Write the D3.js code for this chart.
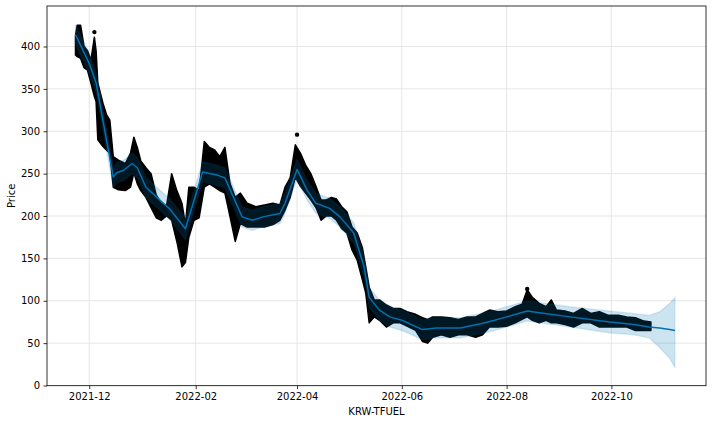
<!DOCTYPE html>
<html>
<head>
<meta charset="utf-8">
<script src="https://cdn.jsdelivr.net/npm/d3@7"></script>
<style>
  html, body { margin: 0; padding: 0; background: #fff; }
  svg { display: block; }
  text { font-family: "DejaVu Sans", sans-serif; }
</style>
</head>
<body>
<div id="chart"></div>
<script>
// ---------------- DATA ----------------
// Observed data (dense hourly points) summarised as a high/low envelope
const obsDates = ["2021-11-23","2021-11-24","2021-11-26","2021-11-28","2021-11-30","2021-12-02","2021-12-04","2021-12-05","2021-12-06","2021-12-09","2021-12-11","2021-12-13","2021-12-15","2021-12-18","2021-12-22","2021-12-25","2021-12-27","2021-12-29","2021-12-31","2022-01-03","2022-01-06","2022-01-09","2022-01-12","2022-01-15","2022-01-18","2022-01-21","2022-01-24","2022-01-26","2022-01-28","2022-01-31","2022-02-03","2022-02-06","2022-02-09","2022-02-12","2022-02-15","2022-02-18","2022-02-21","2022-02-24","2022-02-27","2022-03-03","2022-03-08","2022-03-13","2022-03-18","2022-03-22","2022-03-25","2022-03-28","2022-03-31","2022-04-03","2022-04-06","2022-04-09","2022-04-12","2022-04-15","2022-04-18","2022-04-21","2022-04-24","2022-04-27","2022-04-30","2022-05-03","2022-05-06","2022-05-09","2022-05-11","2022-05-13","2022-05-16","2022-05-19","2022-05-23","2022-05-27","2022-05-31","2022-06-04","2022-06-09","2022-06-13","2022-06-16","2022-06-19","2022-06-24","2022-06-29","2022-07-04","2022-07-09","2022-07-14","2022-07-18","2022-07-22","2022-07-27","2022-08-01","2022-08-06","2022-08-10","2022-08-13","2022-08-16","2022-08-20","2022-08-24","2022-08-27","2022-08-30","2022-09-04","2022-09-09","2022-09-14","2022-09-19","2022-09-24","2022-09-29","2022-10-05","2022-10-10","2022-10-15","2022-10-20","2022-10-24"];
const obsHigh = [413,425,425,400,395,384,411,395,357,333,320,313,270,266,262,274,293,281,265,257,250,225,215,212,250,230,215,190,234,234,230,288,281,278,270,281,238,222,227,215,211,213,215,213,234,245,284,274,260,250,235,219,219,222,220,211,205,187,180,163,140,116,101,101,95,91,91,87,84,80,78,81,81,80,78,81,81,85,89,87,88,93,96,113,104,97,93,101,89,88,85,91,85,87,83,83,81,80,76,75];
const obsLow  = [390,388,386,375,372,357,341,335,290,282,278,274,234,231,230,234,251,238,230,222,210,198,195,200,195,170,140,145,175,195,198,234,238,234,230,227,199,170,191,187,187,187,190,195,207,222,246,235,227,219,210,195,200,200,195,185,180,160,148,125,109,74,81,77,69,74,74,70,65,52,50,57,60,57,60,60,57,60,69,69,70,74,78,81,77,74,77,74,74,72,69,74,74,69,69,69,69,65,65,65];
// Isolated observed points standing out of the cloud
const outlierDates  = ["2021-12-04","2022-04-01","2022-08-13"];
const outlierValues = [417, 296, 114];

// Forecast (yhat) with uncertainty interval
const fcDates = ["2021-11-23","2021-12-01","2021-12-05","2021-12-15","2021-12-17","2021-12-21","2021-12-26","2021-12-29","2022-01-03","2022-01-11","2022-01-17","2022-01-26","2022-02-01","2022-02-05","2022-02-14","2022-02-18","2022-02-28","2022-03-06","2022-03-12","2022-03-22","2022-03-25","2022-04-01","2022-04-07","2022-04-12","2022-04-20","2022-04-26","2022-05-04","2022-05-10","2022-05-13","2022-05-19","2022-05-25","2022-06-01","2022-06-13","2022-06-21","2022-07-05","2022-07-17","2022-07-25","2022-08-01","2022-08-13","2022-08-20","2022-09-07","2022-09-30","2022-10-14","2022-10-23","2022-10-29","2022-11-04","2022-11-07"];
const yhat      = [414,380,357,246,251,254,262,257,234,219,208,185,225,252,248,245,199,195,199,203,215,255,230,215,209,199,180,140,104,89,81,77,66,68,68,73,77,81,88,86,81,75,72,69,68,66,65];
const yhatLower = [402,368,345,234,239,242,250,245,222,207,196,172,213,240,236,233,187,183,187,191,203,243,218,203,197,187,168,128,92,77,69,65,54,56,56,61,65,69,76,74,69,62,60,56,45,32,21];
const yhatUpper = [426,392,369,258,263,266,274,269,246,231,220,198,237,264,260,257,211,207,211,215,227,267,242,227,221,211,192,152,116,101,93,89,78,80,80,85,89,93,100,98,93,88,85,83,87,97,104];

const yTicks = [0, 50, 100, 150, 200, 250, 300, 350, 400];
const xTickLabels = ["2021-12","2022-02","2022-04","2022-06","2022-08","2022-10"];
const xLabel = "KRW-TFUEL";
const yLabel = "Price";

// ---------------- CHART ----------------
const W = 712, H = 424;
const L = 47, R = 706, T = 6, B = 385.7;
const parse = d3.utcParse("%Y-%m-%d");
const parseM = d3.utcParse("%Y-%m");

const x = d3.scaleUtc()
  .domain([Date.UTC(2021, 10, 6, 10), Date.UTC(2022, 10, 25, 2)])
  .range([L, R]);
const y = d3.scaleLinear().domain([-0.2, 447.8]).range([B, T]);

const svg = d3.select("#chart").append("svg")
  .attr("width", W).attr("height", H);
svg.append("rect").attr("width", W).attr("height", H).attr("fill", "#fff");

const xTickDates = xTickLabels.map(parseM);

// grid
const grid = svg.append("g").attr("stroke", "#e6e6e6").attr("stroke-width", 1);
grid.selectAll(".gx").data(xTickDates).join("line")
  .attr("x1", d => x(d)).attr("x2", d => x(d)).attr("y1", T).attr("y2", B);
grid.selectAll(".gy").data(yTicks).join("line")
  .attr("x1", L).attr("x2", R).attr("y1", d => y(d)).attr("y2", d => y(d));

// clip
svg.append("clipPath").attr("id", "clip").append("rect")
  .attr("x", L).attr("y", T).attr("width", R - L).attr("height", B - T);
const plot = svg.append("g").attr("clip-path", "url(#clip)");

// observed envelope
const obs = obsDates.map((d, i) => ({ d: parse(d), hi: obsHigh[i], lo: obsLow[i] }));
plot.append("path").datum(obs)
  .attr("d", d3.area().x(d => x(d.d)).y0(d => y(d.lo)).y1(d => y(d.hi)))
  .attr("fill", "#000").attr("stroke", "#000").attr("stroke-width", 1.5)
  .attr("stroke-linejoin", "round");

plot.selectAll(".out").data(outlierDates.map((d, i) => ({ d: parse(d), v: outlierValues[i] })))
  .join("circle").attr("cx", d => x(d.d)).attr("cy", d => y(d.v)).attr("r", 2.2).attr("fill", "#000");

// forecast band
const fc = fcDates.map((d, i) => ({ d: parse(d), yh: yhat[i], lo: yhatLower[i], hi: yhatUpper[i] }));
plot.append("path").datum(fc)
  .attr("d", d3.area().x(d => x(d.d)).y0(d => y(d.lo)).y1(d => y(d.hi)))
  .attr("fill", "#0072B2").attr("fill-opacity", 0.2)
  .attr("stroke", "#0072B2").attr("stroke-opacity", 0.12).attr("stroke-width", 1.5);

plot.append("path").datum(fc)
  .attr("d", d3.line().x(d => x(d.d)).y(d => y(d.yh)))
  .attr("fill", "none").attr("stroke", "#0072B2").attr("stroke-width", 1.5)
  .attr("stroke-linejoin", "round");

// axes
const xAxis = svg.append("g").attr("transform", `translate(0,${B})`)
  .call(d3.axisBottom(x).tickValues(xTickDates).tickFormat(d3.utcFormat("%Y-%m")).tickSize(3.5).tickPadding(3.5));
const yAxis = svg.append("g").attr("transform", `translate(${L},0)`)
  .call(d3.axisLeft(y).tickValues(yTicks).tickFormat(d3.format("d")).tickSize(3.5).tickPadding(3.5));
[xAxis, yAxis].forEach(a => {
  a.select(".domain").remove();
  a.selectAll("line").attr("stroke", "#000").attr("stroke-width", 0.8);
  a.selectAll("text").attr("font-size", 10).attr("fill", "#000")
    .attr("font-family", "DejaVu Sans, sans-serif");
});

// frame
svg.append("rect").attr("x", L).attr("y", T).attr("width", R - L).attr("height", B - T)
  .attr("fill", "none").attr("stroke", "#000").attr("stroke-width", 0.8);

// labels
svg.append("text").attr("x", (L + R) / 2).attr("y", 415).attr("text-anchor", "middle")
  .attr("font-size", 10).attr("fill", "#000").text(xLabel);
svg.append("text").attr("transform", `translate(14.5,${(T + B) / 2}) rotate(-90)`)
  .attr("text-anchor", "middle").attr("font-size", 10).attr("fill", "#000").text(yLabel);
</script>
</body>
</html>
